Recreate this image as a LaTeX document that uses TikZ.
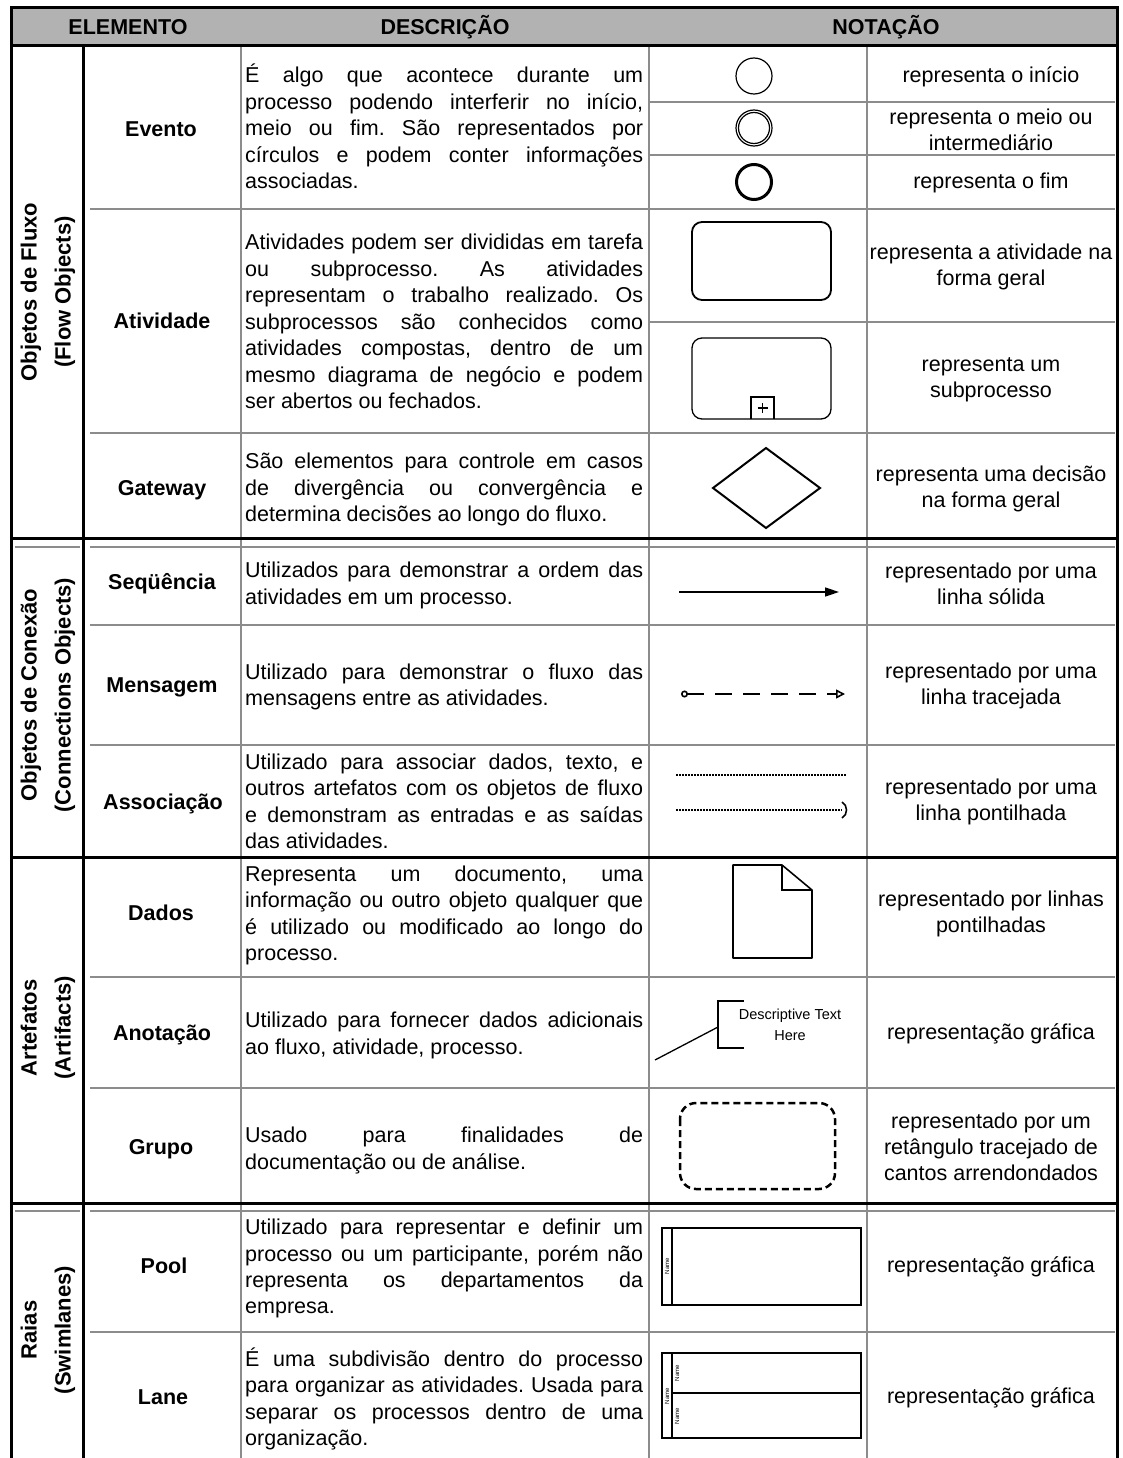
\documentclass[tikz,border=0pt]{standalone}
\usepackage{fontspec}
\setmainfont{Liberation Sans}
\usetikzlibrary{arrows.meta}
\definecolor{headgray}{RGB}{178,178,178}
\definecolor{gridgray}{RGB}{140,140,140}
\frenchspacing

% one justified / one left-aligned line of a description cell (baseline y)
\newcommand\descj[3]{\node[desc,anchor=base west] (#1) at (245,#2) {\makebox[398pt][s]{#3}};}
\newcommand\descl[3]{\node[desc,anchor=base west] (#1) at (245,#2) {#3};}

\begin{document}
\begin{tikzpicture}[x=1pt,y=-1pt,
  desc/.style={font=\fontsize{21.5}{26.5}\selectfont, inner sep=0pt},
  elem/.style={font=\bfseries\fontsize{21.5}{26}\selectfont, inner sep=0pt, anchor=base},
  note/.style={font=\fontsize{21.5}{26}\selectfont, align=center, inner sep=0pt},
  head/.style={font=\bfseries\fontsize{21.5}{26}\selectfont, inner sep=0pt, anchor=base},
  cat/.style={font=\bfseries\fontsize{22}{34}\selectfont, align=center, rotate=90, inner sep=0pt},
  tiny/.style={font=\fontsize{6}{7}\selectfont, rotate=90, inner sep=0pt},
  rule/.style={line width=3pt, black},
  grid/.style={line width=1.4pt, gridgray},
  symline/.style={line width=1.6pt, black}]

\useasboundingbox (0,0) rectangle (1122,1458);
\fill[white] (0,0) rectangle (1122,1458);

% ---------- header ----------
\fill[headgray] (11,8) rectangle (1117,46);
\node[head] (hElem) at (128,35) {ELEMENTO};
\node[head] (hDesc) at (445,35) {DESCRIÇÃO};
\node[head] (hNot)  at (886,35) {NOTAÇÃO};

% ---------- grid: thin gray lines ----------
\draw[grid] (241,46) -- (241,1458);
\draw[grid] (649,46) -- (649,1458);
\draw[grid] (867,46) -- (867,1458);
\foreach \yy in {209,433,625,745,977,1088,1332}
  \draw[grid] (90,\yy) -- (1115,\yy);
\foreach \yy in {102,155,322}
  \draw[grid] (649,\yy) -- (1115,\yy);
\foreach \yy in {547,1211}{
  \draw[grid] (15,\yy) -- (80,\yy);
  \draw[grid] (90,\yy) -- (1115,\yy);
}

% ---------- grid: heavy black rules ----------
\draw[rule] (11,8) -- (1117,8);
\draw[rule] (11,46) -- (1117,46);
\draw[rule] (11,6.5) -- (11,1458);
\draw[rule] (1117,6.5) -- (1117,1458);
\draw[rule] (83,46) -- (83,1458);
\foreach \yy in {538,857,1203}
  \draw[rule] (11,\yy) -- (1117,\yy);

% ---------- category labels ----------
\node[cat] (cFlow) at (48,292)  {Objetos de Fluxo\\(Flow Objects)};
\node[cat] (cConn) at (48,695)  {Objetos de Conexão\\(Connections Objects)};
\node[cat] (cArt)  at (48,1028) {Artefatos\\(Artifacts)};
\node[cat] (cSwim) at (48,1330) {Raias\\(Swimlanes)};

% ---------- element names ----------
\node[elem] (eEvento)   at (161,136.5)  {Evento};
\node[elem] (eAtiv)     at (162,328.5)  {Atividade};
\node[elem] (eGate)     at (162,495.5)  {Gateway};
\node[elem] (eSeq)      at (162,589.5)  {Seqüência};
\node[elem] (eMsg)      at (162,692.5)  {Mensagem};
\node[elem] (eAssoc)    at (163,809.5)  {Associação};
\node[elem] (eDados)    at (161,920.5)  {Dados};
\node[elem] (eAnot)     at (162,1040.5) {Anotação};
\node[elem] (eGrupo)    at (161,1154.5) {Grupo};
\node[elem] (ePool)     at (164,1273.5) {Pool};
\node[elem] (eLane)     at (163,1404.5) {Lane};

% ---------- descriptions ----------
\descj{dEv1}{83}{É algo que acontece durante um}
\descj{dEv2}{110}{processo podendo interferir no início,}
\descj{dEv3}{136}{meio ou fim. São representados por}
\descj{dEv4}{163}{círculos e podem conter informações}
\descl{dEv5}{189}{associadas.}

\descj{dAt1}{249}{Atividades podem ser divididas em tarefa}
\descj{dAt2}{276}{ou subprocesso. As atividades}
\descj{dAt3}{302}{representam o trabalho realizado. Os}
\descj{dAt4}{329}{subprocessos são conhecidos como}
\descj{dAt5}{355}{atividades compostas, dentro de um}
\descj{dAt6}{382}{mesmo diagrama de negócio e podem}
\descl{dAt7}{408}{ser abertos ou fechados.}

\descj{dGa1}{468}{São elementos para controle em casos}
\descj{dGa2}{495}{de divergência ou convergência e}
\descl{dGa3}{521}{determina decisões ao longo do fluxo.}

\descj{dSe1}{577}{Utilizados para demonstrar a ordem das}
\descl{dSe2}{604}{atividades em um processo.}

\descj{dMe1}{679}{Utilizado para demonstrar o fluxo das}
\descl{dMe2}{705}{mensagens entre as atividades.}

\descj{dAs1}{769}{Utilizado para associar dados, texto, e}
\descj{dAs2}{795}{outros artefatos com os objetos de fluxo}
\descj{dAs3}{822}{e demonstram as entradas e as saídas}
\descl{dAs4}{848}{das atividades.}

\descj{dDa1}{881}{Representa um documento, uma}
\descj{dDa2}{907}{informação ou outro objeto qualquer que}
\descj{dDa3}{934}{é utilizado ou modificado ao longo do}
\descl{dDa4}{960}{processo.}

\descj{dAn1}{1027}{Utilizado para fornecer dados adicionais}
\descl{dAn2}{1054}{ao fluxo, atividade, processo.}

\descj{dGr1}{1142}{Usado para finalidades de}
\descl{dGr2}{1169}{documentação ou de análise.}

\descj{dPo1}{1234}{Utilizado para representar e definir um}
\descj{dPo2}{1261}{processo ou um participante, porém não}
\descj{dPo3}{1287}{representa os departamentos da}
\descl{dPo4}{1313}{empresa.}

\descj{dLa1}{1366}{É uma subdivisão dentro do processo}
\descj{dLa2}{1392}{para organizar as atividades. Usada para}
\descj{dLa3}{1419}{separar os processos dentro de uma}
\descl{dLa4}{1445}{organização.}

% ---------- notation captions ----------
\node[note] (nEv1) at (991,77)   {representa o início};
\node[note] (nEv2) at (991,130)  {representa o meio ou\\intermediário};
\node[note] (nEv3) at (991,183)  {representa o fim};
\node[note] (nAt1) at (991,267)  {representa a atividade na\\forma geral};
\node[note] (nAt2) at (991,380)  {representa um\\subprocesso};
\node[note] (nGa)  at (991,489)  {representa uma decisão\\na forma geral};
\node[note] (nSe)  at (991,584)  {representado por uma\\linha sólida};
\node[note] (nMe)  at (991,686)  {representado por uma\\linha tracejada};
\node[note] (nAs)  at (991,802)  {representado por uma\\linha pontilhada};
\node[note] (nDa)  at (991,914)  {representado por linhas\\pontilhadas};
\node[note] (nAn)  at (991,1034) {representação gráfica};
\node[note] (nGr)  at (991,1147) {representado por um\\retângulo tracejado de\\cantos arrendondados};
\node[note] (nPo)  at (991,1267) {representação gráfica};
\node[note] (nLa)  at (991,1398) {representação gráfica};

% ---------- notation symbols ----------
% events
\draw[line width=1.2pt] (754,76) circle[radius=18];
\draw[line width=1.2pt] (754,128) circle[radius=18];
\draw[line width=1.2pt] (754,128) circle[radius=15.5];
\draw[line width=3pt] (754,182) circle[radius=17.5];

% activity and sub-process
\draw[line width=1.8pt, rounded corners=10pt] (692,222) rectangle (831,300);
\draw[line width=1.3pt, rounded corners=10pt] (692,338) rectangle (831,419);
\draw[line width=1.3pt] (751,419) -- (751,397) -- (774,397) -- (774,419);
\draw[line width=1.6pt] (762.5,403) -- (762.5,413) (757.5,408) -- (767.5,408);

% gateway
\draw[line width=2pt, line join=miter] (713,488) -- (766,448) -- (820,488) -- (766,528) -- cycle;

% sequence flow
\coordinate (seqA) at (679,592);
\coordinate (seqB) at (839,592);
\draw[line width=1.6pt, -{Triangle[length=14pt,width=9pt]}] (seqA) -- (seqB);

% message flow
\coordinate (msgA) at (681,694);
\coordinate (msgB) at (845,694);
\draw[line width=1.6pt, dash pattern=on 17pt off 11pt,
      {Circle[open,length=7pt,width=7pt]}-{Triangle[open,length=9pt,width=9pt]}] (msgA) -- (msgB);

% association
\coordinate (asA1) at (676,775);
\coordinate (asB1) at (846,775);
\coordinate (asA2) at (676,810);
\coordinate (asB2) at (842,810);
\draw[line width=1.3pt, dash pattern=on 1.6pt off 1.4pt] (asA1) -- (asB1);
\draw[line width=1.3pt, dash pattern=on 1.6pt off 1.4pt] (asA2) -- (asB2);
\draw[line width=1.6pt] (842,802) .. controls (848,805) and (848,815) .. (842,818);

% data object
\draw[symline, line join=round] (733,865) -- (782,865) -- (812,890) -- (812,958) -- (733,958) -- cycle;
\draw[symline] (782,865) -- (782,890) -- (812,890);

% text annotation
\coordinate (annA) at (655,1060);
\coordinate (annB) at (718,1027);
\draw[line width=1.3pt] (annA) -- (annB);
\draw[line width=2pt] (744,1001) -- (718,1001) -- (718,1048) -- (744,1048);
\node[font=\fontsize{14.5}{21}\selectfont, align=center, inner sep=0pt] (annT) at (790,1025) {Descriptive Text\\Here};

% group
\draw[line width=2.5pt, dash pattern=on 7pt off 4pt, rounded corners=16pt] (680,1103) rectangle (835,1189);

% pool
\draw[symline] (662,1228) rectangle (861,1305);
\draw[symline] (672,1228) -- (672,1305);
\node[tiny] (poolN) at (667,1266) {Name};

% lanes
\draw[symline] (662,1353) rectangle (861,1438);
\draw[symline] (672,1353) -- (672,1438);
\draw[symline] (672,1393) -- (861,1393);
\node[tiny] (laneN0) at (667,1396) {Name};
\node[tiny] (laneN1) at (677,1373) {Name};
\node[tiny] (laneN2) at (677,1416) {Name};

\end{tikzpicture}
\end{document}
